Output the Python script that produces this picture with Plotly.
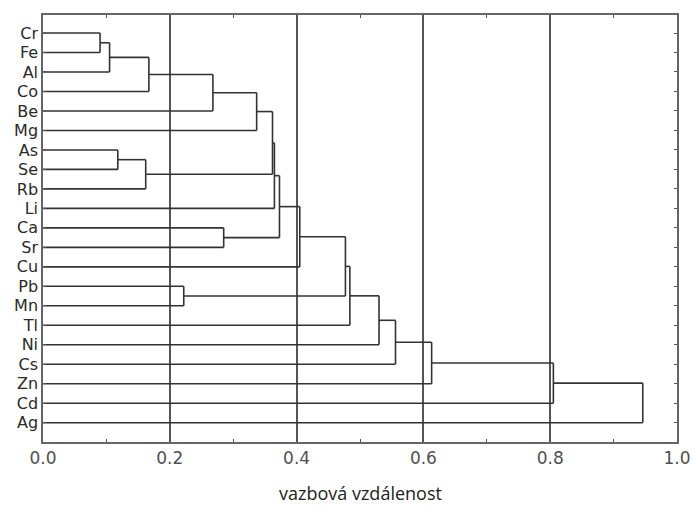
import plotly.graph_objects as go

# Leaf labels, top to bottom
leaves = ["Cr", "Fe", "Al", "Co", "Be", "Mg", "As", "Se", "Rb", "Li", "Ca",
          "Sr", "Cu", "Pb", "Mn", "Tl", "Ni", "Cs", "Zn", "Cd", "Ag"]

# Linkage: cluster id = len(leaves) + merge index
merge_left = [0, 21, 22, 23, 24, 6, 26, 25, 28, 10, 29, 31, 13, 32, 34, 35, 36, 37, 38, 39]
merge_right = [1, 2, 3, 4, 5, 7, 8, 27, 9, 11, 30, 12, 14, 33, 15, 16, 17, 18, 19, 20]
merge_height = [0.090, 0.105, 0.167, 0.268, 0.337, 0.118, 0.162, 0.362, 0.365, 0.285,
                0.373, 0.405, 0.222, 0.477, 0.484, 0.530, 0.556, 0.613, 0.805, 0.946]

x_ticks = [0.0, 0.2, 0.4, 0.6, 0.8, 1.0]
x_ticktext = ["0.0", "0.2", "0.4", "0.6", "0.8", "1.0"]
x_title = "vazbová vzdálenost"

n = len(leaves)
pos = {i: float(i) for i in range(n)}
hgt = {i: 0.0 for i in range(n)}
xs, ys = [], []
for k, (a, b, h) in enumerate(zip(merge_left, merge_right, merge_height)):
    cid = n + k
    for c in (a, b):
        xs += [hgt[c], h, None]
        ys += [pos[c], pos[c], None]
    xs += [h, h, None]
    ys += [pos[a], pos[b], None]
    pos[cid] = (pos[a] + pos[b]) / 2
    hgt[cid] = h

fig = go.Figure()
fig.add_trace(go.Scatter(x=xs, y=ys, mode="lines",
                         line=dict(color="#333333", width=1.6),
                         hoverinfo="skip", showlegend=False, cliponaxis=False))

fig.update_layout(
    width=693, height=508,
    margin=dict(l=43, r=16, t=15, b=66, autoexpand=False),
    paper_bgcolor="white", plot_bgcolor="white",
    font=dict(family="DejaVu Sans, sans-serif"),
    xaxis=dict(range=[0, 1.0], tickvals=x_ticks, ticktext=x_ticktext, automargin=False,
               showgrid=True, gridcolor="#555555", gridwidth=1.5,
               zeroline=False, showline=True, linecolor="#666666", linewidth=1.5,
               mirror="ticks", ticks="inside", ticklen=3, tickcolor="#555555",
               minor=dict(dtick=0.1, ticks="inside", ticklen=3, tickcolor="#555555", showgrid=False),
               tickfont=dict(size=17, color="#505050")),
    yaxis=dict(range=[20.99, -0.925], tickvals=list(range(n)), ticktext=leaves, automargin=False,
               showgrid=False, zeroline=False, showline=True, linecolor="#666666", linewidth=1.5,
               mirror="ticks", ticks="inside", ticklen=3, tickcolor="#555555",
               tickfont=dict(size=16, color="#2a2a2a")),
)
fig.add_annotation(text=x_title, xref="paper", yref="paper", x=0.5, y=-0.119,
                   xanchor="center", yanchor="middle", showarrow=False,
                   font=dict(family="Open Sans, sans-serif", size=18, color="#222222"))

fig.write_html("out.html", config={"displayModeBar": False},
               post_script="document.body.style.margin='0';document.body.style.padding='0';")
